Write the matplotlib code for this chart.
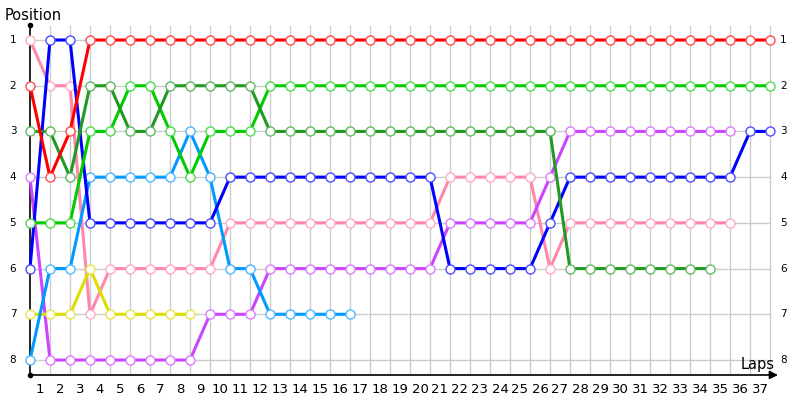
import matplotlib
matplotlib.use("Agg")
import matplotlib.pyplot as plt
from matplotlib.colors import to_rgb

# lap chart: position of each car after every lap (index 0 = start)
red = [2, 4, 3] + [1] * 35
blue = [6, 1, 1, 5, 5, 5, 5, 5, 5, 5, 4, 4, 4, 4, 4, 4, 4, 4, 4, 4, 4,
        6, 6, 6, 6, 6, 5, 4, 4, 4, 4, 4, 4, 4, 4, 4, 3, 3]
pink = [1, 2, 2, 7, 6, 6, 6, 6, 6, 6, 5, 5, 5, 5, 5, 5, 5, 5, 5, 5, 5,
        4, 4, 4, 4, 4, 6, 5, 5, 5, 5, 5, 5, 5, 5, 5]
dark_green = [3, 3, 4, 2, 2, 3, 3, 2, 2, 2, 2, 2, 3, 3, 3, 3, 3, 3, 3, 3, 3,
              3, 3, 3, 3, 3, 3, 6, 6, 6, 6, 6, 6, 6, 6]
light_green = [5, 5, 5, 3, 3, 2, 2, 3, 4, 3, 3, 3] + [2] * 26
light_blue = [8, 6, 6, 4, 4, 4, 4, 4, 3, 4, 6, 6, 7, 7, 7, 7, 7]
purple = [4, 8, 8, 8, 8, 8, 8, 8, 8, 7, 7, 7, 6, 6, 6, 6, 6, 6, 6, 6, 6,
          5, 5, 5, 5, 5, 4, 3, 3, 3, 3, 3, 3, 3, 3, 3]
yellow = [7, 7, 7, 6, 7, 7, 7, 7, 7]

series = [
    (pink, "#ff88aa"),
    (purple, "#cc44ff"),
    (yellow, "#dddd00"),
    (light_blue, "#0099ff"),
    (blue, "#0000ff"),
    (light_green, "#00cc00"),
    (dark_green, "#229922"),
    (red, "#ff0000"),
]

n_laps = 37
n_pos = 8

fig = plt.figure(figsize=(8, 4), dpi=100)
ax = fig.add_axes([30 / 800, 25 / 400, 760 / 800, 350 / 400])
ax.set_xlim(0, 38)
top = 1 - 15 / 45.71
bottom = 8 + 15 / 45.71
ax.set_ylim(bottom, top)
for s in ax.spines.values():
    s.set_visible(False)

# grid
ax.vlines(range(1, n_laps + 1), top, bottom, color="#cccccc", lw=1, zorder=0)
ax.hlines(range(1, n_pos + 1), 0, n_laps, color="#cccccc", lw=1, zorder=0)

# axes lines
ax.plot([0, 0], [top, bottom], color="black", lw=1.2, zorder=1, clip_on=False)
ax.plot([0], [top], "o", color="black", ms=3, clip_on=False)
ax.plot([0], [bottom], "o", color="black", ms=3, clip_on=False)
ax.annotate("", xy=(37.4, bottom), xytext=(0, bottom),
            arrowprops=dict(arrowstyle="-|>", color="black", lw=1.2,
                            mutation_scale=12, shrinkA=0, shrinkB=0),
            annotation_clip=False)

for i, (vals, col) in enumerate(series):
    rgb = to_rgb(col)
    edge = tuple(c + (1 - c) * 0.3 for c in rgb)
    laps = list(range(len(vals)))
    ax.plot(laps, vals, color=col, lw=2.2, zorder=2 + i, solid_capstyle="butt",
            marker="o", ms=6.5, mfc="white", mec=edge, mew=1.0, clip_on=False)

# labels
ax.set_xticks([k - 0.5 for k in range(1, n_laps + 1)])
ax.set_xticklabels([str(k) for k in range(1, n_laps + 1)], fontsize=9.5)
ax.tick_params(axis="x", length=0, pad=6)
ax.set_yticks([])
for p in range(1, n_pos + 1):
    ax.text(-0.85, p, str(p), ha="center", va="center", fontsize=7.5)
    ax.text(37.5, p, str(p), ha="left", va="center", fontsize=7.5)

fig.text(5 / 800, 1 - 15 / 400, "Position", ha="left", va="center", fontsize=10.5)
fig.text(775 / 800, 1 - 364 / 400, "Laps", ha="right", va="center", fontsize=10.5)

fig.savefig("out.png", dpi=100)
